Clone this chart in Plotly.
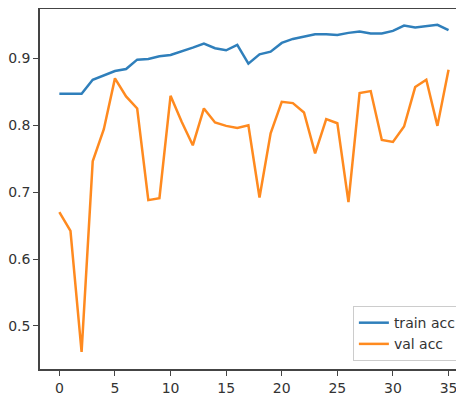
import plotly.graph_objects as go

epochs = list(range(36))
train_acc = [0.847, 0.847, 0.847, 0.868, 0.875, 0.881, 0.884, 0.898, 0.899, 0.903,
             0.905, 0.910, 0.916, 0.922, 0.915, 0.912, 0.920, 0.892, 0.906, 0.910,
             0.923, 0.929, 0.933, 0.936, 0.936, 0.935, 0.938, 0.940, 0.937, 0.937,
             0.941, 0.949, 0.946, 0.948, 0.950, 0.942]
val_acc = [0.670, 0.642, 0.461, 0.746, 0.794, 0.870, 0.843, 0.825, 0.688, 0.691,
           0.844, 0.805, 0.770, 0.825, 0.804, 0.799, 0.796, 0.800, 0.692, 0.788,
           0.835, 0.833, 0.819, 0.758, 0.809, 0.803, 0.685, 0.848, 0.851, 0.778,
           0.775, 0.798, 0.857, 0.868, 0.799, 0.883]
x_ticks = [0, 5, 10, 15, 20, 25, 30, 35]
y_ticks = [0.5, 0.6, 0.7, 0.8, 0.9]

fig = go.Figure()
fig.add_trace(go.Scatter(x=epochs, y=train_acc, mode="lines", name="train acc",
                         line=dict(color="#2f7fbb", width=2.5)))
fig.add_trace(go.Scatter(x=epochs, y=val_acc, mode="lines", name="val acc",
                         line=dict(color="#ff8a1f", width=2.5)))

axis_common = dict(showgrid=False, zeroline=False, showline=True, linecolor="#444",
                   linewidth=1.5, ticks="outside", ticklen=5, tickcolor="#444",
                   tickfont=dict(family="DejaVu Sans", size=14, color="#333"))
fig.update_xaxes(range=[-1.74, 36.39], tickvals=x_ticks, mirror=True, **axis_common)
fig.update_yaxes(range=[0.4356, 0.9737], tickvals=y_ticks, tickformat=".1f", **axis_common)

# page body has an 8px default margin, so the figure is sized to fill the rest
fig.update_layout(
    width=456, height=388,
    margin=dict(l=32, r=0, t=1, b=27),
    plot_bgcolor="white", paper_bgcolor="white",
    font=dict(family="DejaVu Sans", size=14, color="#333"),
    legend=dict(x=0.995, y=0.022, xanchor="right", yanchor="bottom",
                bgcolor="white", bordercolor="#cccccc", borderwidth=1,
                itemwidth=30, font=dict(size=14)),
)

fig.write_html("out.html")
